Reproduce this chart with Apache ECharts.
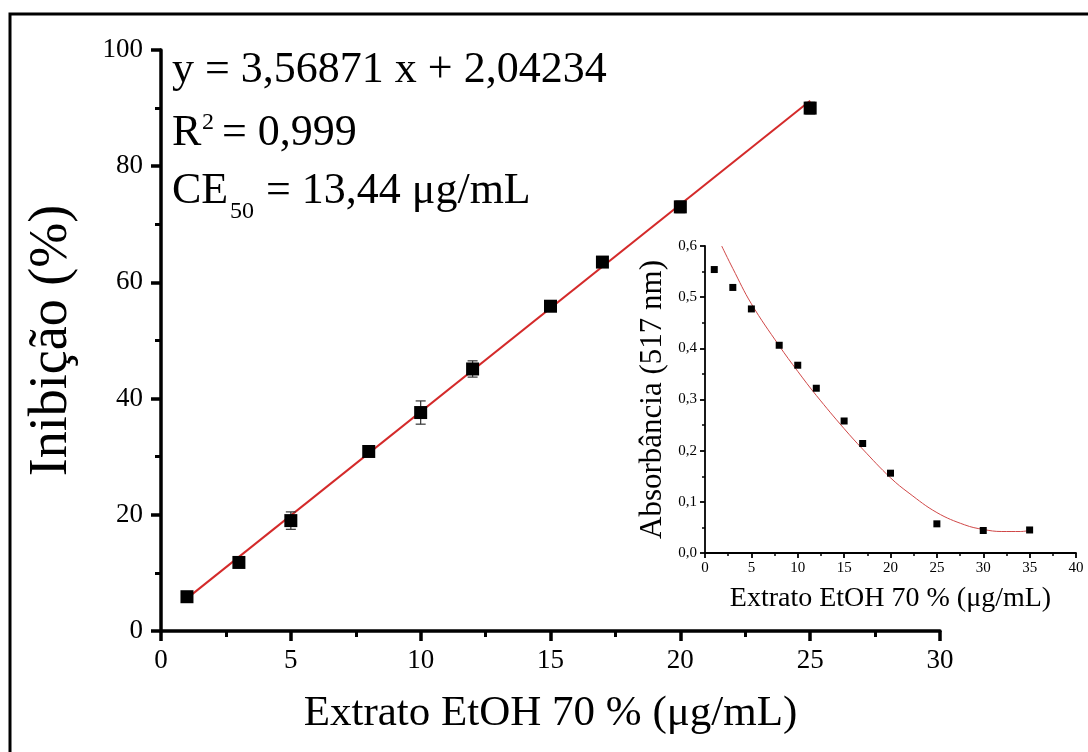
<!DOCTYPE html>
<html>
<head>
<meta charset="utf-8">
<script src="https://cdn.jsdelivr.net/npm/echarts@6/dist/echarts.min.js"></script>
<style>
html,body{margin:0;padding:0;background:#fff;}
#chart{width:1088px;height:752px;}
</style>
</head>
<body>
<div id="chart"></div>
<script>
// ---- Main plot data (Inibição %) ----
const mainX = [1, 3, 5, 8, 10, 12, 15, 17, 20, 25];
const mainY = [5.9, 11.8, 19.0, 30.9, 37.6, 45.1, 55.9, 63.5, 73.0, 90.0];
const mainErr = [0.5, 0.7, 1.5, 0.5, 2.0, 1.4, 0.6, 0.5, 1.0, 1.0];
// linear fit endpoints (y = 3,56871 x + 2,04234)
const fitX = [1, 25];
const fitY = [5.61, 91.26];
const mainXTicks = [0, 5, 10, 15, 20, 25, 30];
const mainYTicks = [0, 20, 40, 60, 80, 100];

// ---- Inset data (Absorbância 517 nm) ----
const insetX = [1, 3, 5, 8, 10, 12, 15, 17, 20, 25, 30, 35];
const insetY = [0.554, 0.519, 0.477, 0.406, 0.367, 0.322, 0.258, 0.214, 0.156, 0.057, 0.044, 0.045];
const curveX = [1.8, 3, 5, 8, 10, 12, 15, 17, 20, 22, 25, 28, 30, 32, 34, 35];
const curveY = [0.600, 0.556, 0.487, 0.405, 0.355, 0.308, 0.243, 0.203, 0.147, 0.117, 0.079, 0.055, 0.046, 0.042, 0.042, 0.044];
const insetXTicks = [0, 5, 10, 15, 20, 25, 30, 35, 40];
const insetYTicks = ['0,0', '0,1', '0,2', '0,3', '0,4', '0,5', '0,6'];

// ---- Text ----
const xTitle = 'Extrato EtOH 70 % (μg/mL)';
const yTitle = 'Inibição (%)';
const insetYTitle = 'Absorbância (517 nm)';

const FONT = '"Liberation Serif", "Times New Roman", serif';

const chart = echarts.init(document.getElementById('chart'));

function pairs(xs, ys) { return xs.map((x, i) => [x, ys[i]]); }

const option = {
  animation: false,
  backgroundColor: '#fff',
  grid: [
    { left: 161, right: 148, top: 50, bottom: 121, containLabel: false },
    { left: 705, right: 12, top: 246, bottom: 199, containLabel: false }
  ],
  xAxis: [
    {
      type: 'value', gridIndex: 0, min: mainXTicks[0], max: mainXTicks[mainXTicks.length - 1], interval: 5,
      name: xTitle, nameLocation: 'middle', nameGap: 61,
      nameTextStyle: { fontFamily: FONT, fontSize: 43, color: '#000' },
      axisLine: { show: true, onZero: false, lineStyle: { color: '#000', width: 3.5 } },
      axisTick: { show: true, inside: false, length: 10, lineStyle: { color: '#000', width: 3.5 } },
      minorTick: { show: true, splitNumber: 2, length: 6, lineStyle: { color: '#000', width: 3 } },
      axisLabel: { fontFamily: FONT, fontSize: 27, color: '#000', margin: 16 },
      splitLine: { show: false }
    },
    {
      type: 'value', gridIndex: 1, min: insetXTicks[0], max: insetXTicks[insetXTicks.length - 1], interval: 5,
      name: xTitle, nameLocation: 'middle', nameGap: 32,
      nameTextStyle: { fontFamily: FONT, fontSize: 28, color: '#000' },
      axisLine: { show: true, onZero: false, lineStyle: { color: '#000', width: 1.8 } },
      axisTick: { show: true, inside: false, length: 5, lineStyle: { color: '#000', width: 1.8 } },
      minorTick: { show: true, splitNumber: 2, length: 3, lineStyle: { color: '#000', width: 1.5 } },
      axisLabel: { fontFamily: FONT, fontSize: 15, color: '#000', margin: 8 },
      splitLine: { show: false }
    }
  ],
  yAxis: [
    {
      type: 'value', gridIndex: 0, min: mainYTicks[0], max: mainYTicks[mainYTicks.length - 1], interval: 20,
      name: yTitle, nameLocation: 'middle', nameGap: 82, nameRotate: 90,
      nameTextStyle: { fontFamily: FONT, fontSize: 54, color: '#000' },
      axisLine: { show: true, onZero: false, lineStyle: { color: '#000', width: 3.5 } },
      axisTick: { show: true, inside: false, length: 10, lineStyle: { color: '#000', width: 3.5 } },
      minorTick: { show: true, splitNumber: 2, length: 6, lineStyle: { color: '#000', width: 3 } },
      axisLabel: { fontFamily: FONT, fontSize: 27, color: '#000', margin: 18 },
      splitLine: { show: false }
    },
    {
      type: 'value', gridIndex: 1, min: 0, max: 0.6, interval: 0.1,
      name: insetYTitle, nameLocation: 'middle', nameGap: 37, nameRotate: 90,
      nameTextStyle: { fontFamily: FONT, fontSize: 31, color: '#000' },
      axisLine: { show: true, onZero: false, lineStyle: { color: '#000', width: 1.8 } },
      axisTick: { show: true, inside: false, length: 5, lineStyle: { color: '#000', width: 1.8 } },
      minorTick: { show: true, splitNumber: 2, length: 3, lineStyle: { color: '#000', width: 1.5 } },
      axisLabel: {
        fontFamily: FONT, fontSize: 15, color: '#000', margin: 8,
        formatter: (v) => insetYTicks[Math.round(v * 10)]
      },
      splitLine: { show: false }
    }
  ],
  series: [
    {
      type: 'line', xAxisIndex: 0, yAxisIndex: 0,
      data: pairs(fitX, fitY), showSymbol: false, symbol: 'none',
      lineStyle: { color: '#d42a2a', width: 2 }, z: 2
    },
    {
      type: 'custom', xAxisIndex: 0, yAxisIndex: 0,
      data: mainX.map((x, i) => [x, mainY[i], mainErr[i]]),
      renderItem: function (params, api) {
        const x = api.value(0), y = api.value(1), e = api.value(2);
        const top = api.coord([x, y + e]);
        const bot = api.coord([x, y - e]);
        const w = 5;
        const st = { stroke: '#333', lineWidth: 1.2 };
        return {
          type: 'group',
          children: [
            { type: 'line', shape: { x1: top[0], y1: top[1], x2: bot[0], y2: bot[1] }, style: st },
            { type: 'line', shape: { x1: top[0] - w, y1: top[1], x2: top[0] + w, y2: top[1] }, style: st },
            { type: 'line', shape: { x1: bot[0] - w, y1: bot[1], x2: bot[0] + w, y2: bot[1] }, style: st }
          ]
        };
      },
      z: 3
    },
    {
      type: 'scatter', xAxisIndex: 0, yAxisIndex: 0,
      data: pairs(mainX, mainY), symbol: 'rect', symbolSize: 13,
      itemStyle: { color: '#000', opacity: 1 }, z: 4
    },
    {
      type: 'line', xAxisIndex: 1, yAxisIndex: 1,
      data: pairs(curveX, curveY), showSymbol: false, symbol: 'none', smooth: 0.4,
      lineStyle: { color: '#d04848', width: 1 }, z: 2
    },
    {
      type: 'scatter', xAxisIndex: 1, yAxisIndex: 1,
      data: pairs(insetX, insetY), symbol: 'rect', symbolSize: 7,
      itemStyle: { color: '#000', opacity: 1 }, z: 4
    }
  ],
  graphic: [
    {
      type: 'rect', silent: true, z: -10,
      shape: { x: 10, y: 14, width: 1100, height: 760 },
      style: { fill: 'none', stroke: '#000', lineWidth: 3 }
    },
    { type: 'text', x: 172, y: 70, style: { text: 'y = 3,56871 x + 2,04234', font: '44px ' + FONT, fill: '#000', verticalAlign: 'middle' } },
    { type: 'text', x: 172, y: 133, style: { text: 'R', font: '44px ' + FONT, fill: '#000', verticalAlign: 'middle' } },
    { type: 'text', x: 202, y: 123, style: { text: '2', font: '24px ' + FONT, fill: '#000', verticalAlign: 'middle' } },
    { type: 'text', x: 222, y: 133, style: { text: '= 0,999', font: '44px ' + FONT, fill: '#000', verticalAlign: 'middle' } },
    { type: 'text', x: 172, y: 191, style: { text: 'CE', font: '44px ' + FONT, fill: '#000', verticalAlign: 'middle' } },
    { type: 'text', x: 230, y: 212, style: { text: '50', font: '24px ' + FONT, fill: '#000', verticalAlign: 'middle' } },
    { type: 'text', x: 266, y: 191, style: { text: '= 13,44 μg/mL', font: '44px ' + FONT, fill: '#000', verticalAlign: 'middle' } }
  ]
};

chart.setOption(option);
</script>
</body>
</html>
